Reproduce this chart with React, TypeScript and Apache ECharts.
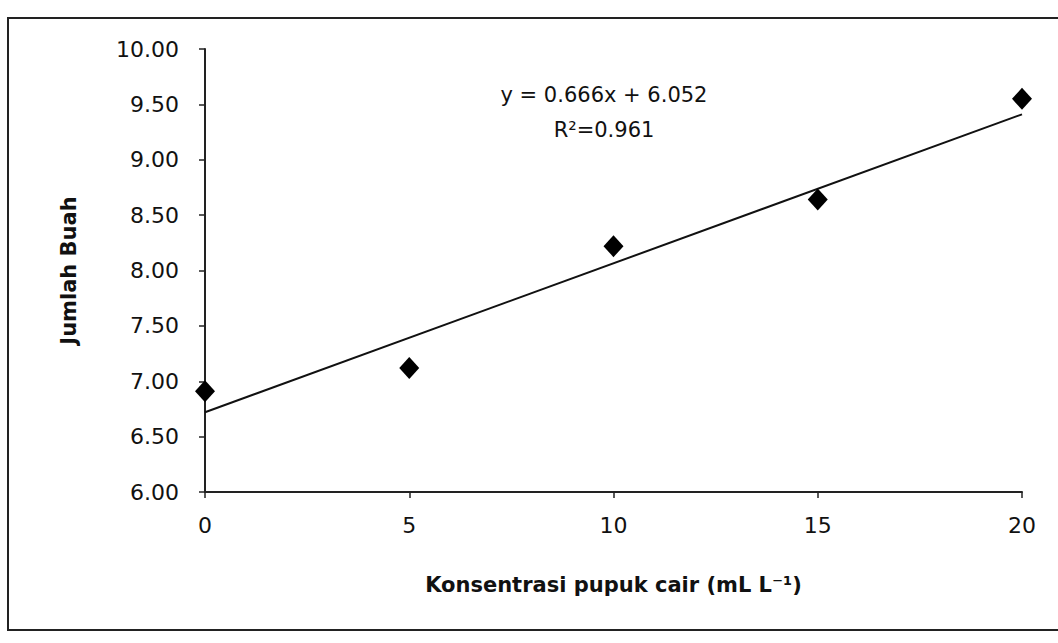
import React, { useEffect, useRef } from "react";
import * as echarts from "echarts";

const xValues = [0, 5, 10, 15, 20];
const yValues = [6.91, 7.12, 8.22, 8.64, 9.55];
const trendX = [0, 20];
const trendY = [6.72, 9.41];
const equationText = "y = 0.666x + 6.052";
const r2Text = "R²=0.961";
const xTitle = "Konsentrasi pupuk cair (mL L⁻¹)";
const yTitle = "Jumlah Buah";

const FONT = "DejaVu Sans";

export default function App() {
  const ref = useRef<HTMLDivElement>(null);
  useEffect(() => {
    document.body.style.margin = "0";
    const chart = echarts.init(ref.current!, undefined, { renderer: "svg" });
    chart.setOption({
      animation: false,
      backgroundColor: "#fff",
      textStyle: { fontFamily: FONT },
      grid: { left: 205, right: 36, top: 49, bottom: 151 },
      xAxis: {
        type: "value",
        min: 0,
        max: 20,
        interval: 5,
        name: xTitle,
        nameLocation: "middle",
        nameGap: 82,
        nameTextStyle: { color: "#111", fontSize: 21, fontWeight: "bold", fontFamily: FONT },
        axisLine: { lineStyle: { color: "#222", width: 2 } },
        axisTick: { show: true, length: 6, lineStyle: { color: "#222", width: 1.5 } },
        axisLabel: { color: "#111", fontSize: 22, fontFamily: FONT, margin: 22 },
        splitLine: { show: false },
      },
      yAxis: {
        type: "value",
        min: 6,
        max: 10,
        interval: 0.5,
        name: yTitle,
        nameLocation: "middle",
        nameGap: 126,
        nameRotate: 90,
        nameTextStyle: { color: "#111", fontSize: 21, fontWeight: "bold", fontFamily: FONT },
        axisLine: { show: true, lineStyle: { color: "#222", width: 2 } },
        axisTick: { show: true, length: 6, lineStyle: { color: "#222", width: 1.5 } },
        axisLabel: {
          color: "#111",
          fontSize: 22,
          fontFamily: FONT,
          margin: 26,
          formatter: (v: number) => v.toFixed(2),
        },
        splitLine: { show: false },
      },
      series: [
        {
          type: "line",
          data: trendX.map((x, i) => [x, trendY[i]]),
          symbol: "none",
          lineStyle: { color: "#111", width: 2 },
          z: 2,
        },
        {
          type: "scatter",
          data: xValues.map((x, i) => [x, yValues[i]]),
          symbol: "diamond",
          symbolSize: [20, 22],
          itemStyle: { color: "#000", opacity: 1 },
          z: 3,
        },
      ],
      graphic: [
        {
          type: "rect",
          shape: { x: 8, y: 18, width: 1062, height: 612 },
          style: { fill: "none", stroke: "#222", lineWidth: 2 },
          silent: true,
        },
        {
          type: "text",
          x: 604,
          y: 95,
          style: {
            text: equationText,
            fontSize: 21,
            fontFamily: FONT,
            fill: "#111",
            align: "center",
            verticalAlign: "middle",
          },
        },
        {
          type: "text",
          x: 604,
          y: 130,
          style: {
            text: r2Text,
            fontSize: 21,
            fontFamily: FONT,
            fill: "#111",
            align: "center",
            verticalAlign: "middle",
          },
        },
      ],
    });
    return () => chart.dispose();
  }, []);
  return <div ref={ref} style={{ width: 1058, height: 643 }} />;
}
